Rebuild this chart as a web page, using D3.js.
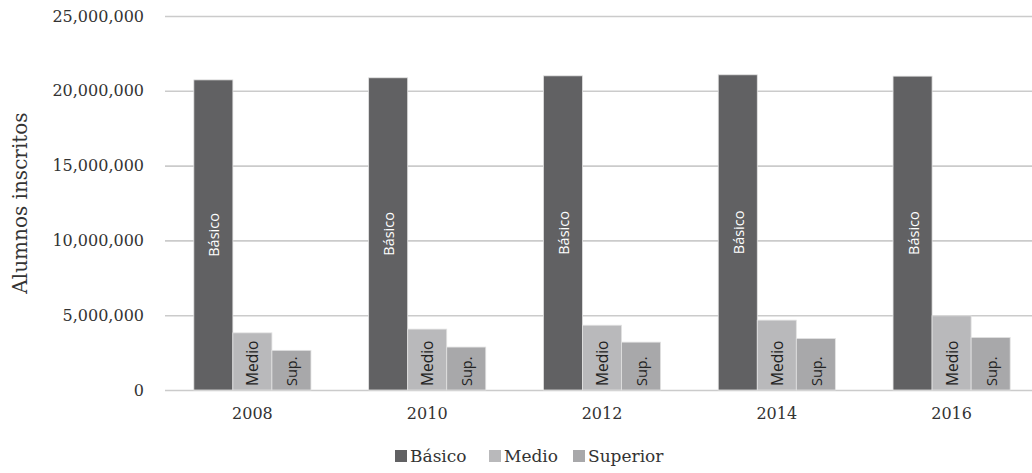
<!DOCTYPE html>
<html>
<head>
<meta charset="utf-8">
<script src="https://cdn.jsdelivr.net/npm/d3@7"></script>
<style>
  body { margin: 0; background: #fff; }
  .tick text { font-family: "DejaVu Serif", serif; fill: #333; }
</style>
</head>
<body>
<div id="chart-container"></div>
<script>
const years = ['2008', '2010', '2012', '2014', '2016']
const basico = [20730000, 20870000, 21000000, 21070000, 20980000]
const medio = [3820000, 4070000, 4330000, 4670000, 4960000]
const superior = [2650000, 2870000, 3200000, 3440000, 3510000]
const seriesNames = ['Básico', 'Medio', 'Superior']
const barLabels = ['Básico', 'Medio', 'Sup.']
const yTicks = [0, 5000000, 10000000, 15000000, 20000000, 25000000]

const colors = ['#616163', '#b9b9bb', '#a8a8aa']

const width = 1032, height = 473
const margin = {top: 16, right: -7, bottom: 83, left: 165}

const svg = d3.select('#chart-container')
    .append('svg')
    .attr('width', width)
    .attr('height', height)

const x0 = d3.scaleBand()
    .domain(years)
    .range([margin.left, width - margin.right])
    .paddingInner(0.33)
    .paddingOuter(0.165)

const x1 = d3.scaleBand()
    .domain(seriesNames)
    .range([0, x0.bandwidth()])

const y = d3.scaleLinear()
    .domain([0, 25000000])
    .range([height - margin.bottom, margin.top])

// gridlines + y labels
const yAxis = svg.append('g')
    .attr('transform', `translate(${margin.left},0)`)
    .call(d3.axisLeft(y).tickValues(yTicks).tickFormat(d3.format(',')).tickSize(0).tickPadding(21))
yAxis.select('.domain').remove()
yAxis.selectAll('.tick text').attr('font-size', 16)
yAxis.selectAll('.tick line')
    .attr('x2', width - margin.left)
    .attr('stroke', '#cbcbcb')
    .attr('stroke-width', 1.6)

// x labels
const xAxis = svg.append('g')
    .attr('transform', `translate(0,${height - margin.bottom})`)
    .call(d3.axisBottom(x0).tickSize(0).tickPadding(18))
xAxis.select('.domain').remove()
xAxis.selectAll('.tick text').attr('font-size', 16)

const data = years.map((yr, i) => ({year: yr, values: [basico[i], medio[i], superior[i]]}))

const groups = svg.append('g').selectAll('g')
    .data(data)
    .join('g')
    .attr('transform', d => `translate(${x0(d.year)},0)`)

groups.selectAll('rect')
    .data(d => d.values.map((v, j) => ({v, j})))
    .join('rect')
    .attr('x', d => x1(seriesNames[d.j]))
    .attr('y', d => y(d.v))
    .attr('width', x1.bandwidth())
    .attr('height', d => y(0) - y(d.v))
    .attr('fill', d => colors[d.j])
    .attr('stroke', '#e2e2e2')
    .attr('stroke-width', 0.8)

groups.selectAll('text.lbl')
    .data(d => d.values.map((v, j) => ({v, j})))
    .join('text')
    .attr('class', 'lbl')
    .attr('transform', d => {
        const cx = x1(seriesNames[d.j]) + x1.bandwidth() / 2 + 6
        const cy = d.j === 0 ? (y(d.v) + y(0)) / 2 : y(0) - 4
        return `translate(${cx},${cy}) rotate(-90)`
    })
    .attr('text-anchor', d => d.j === 0 ? 'middle' : 'start')
    .attr('font-family', '"Open Sans", sans-serif')
    .attr('font-size', d => d.j === 1 ? 15.5 : 14.5)
    .attr('fill', d => d.j === 0 ? '#ffffff' : '#222')
    .text(d => barLabels[d.j])

// y title
svg.append('text')
    .attr('transform', `translate(27,${(y(0) + y(25000000)) / 2}) rotate(-90)`)
    .attr('text-anchor', 'middle')
    .attr('font-family', '"DejaVu Serif", serif')
    .attr('font-size', 20)
    .attr('fill', '#333')
    .text('Alumnos inscritos')

// legend
const legendX = [395, 489, 573]
const legend = svg.append('g')
    .attr('transform', `translate(0,456)`)
seriesNames.forEach((s, i) => {
    legend.append('rect')
        .attr('x', legendX[i])
        .attr('y', -6)
        .attr('width', 12)
        .attr('height', 12)
        .attr('fill', colors[i])
    legend.append('text')
        .attr('x', legendX[i] + 15)
        .attr('y', 6)
        .attr('font-family', '"DejaVu Serif", serif')
        .attr('font-size', 17)
        .attr('fill', '#333')
        .text(s)
})
</script>
</body>
</html>
